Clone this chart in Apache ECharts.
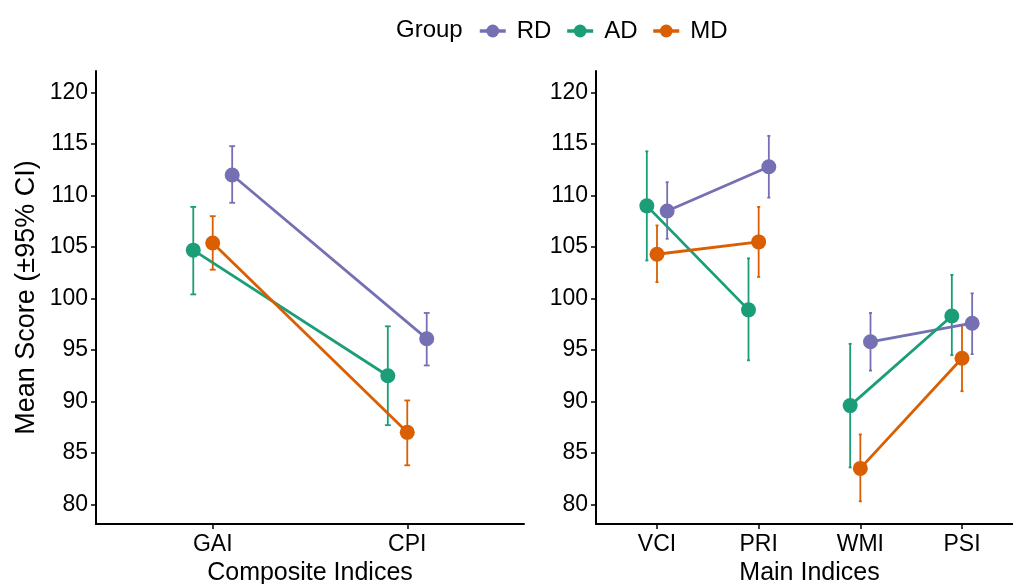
<!DOCTYPE html>
<html>
<head>
<meta charset="utf-8">
<script src="https://cdn.jsdelivr.net/npm/echarts@6/dist/echarts.min.js"></script>
<style>
  html, body { margin: 0; padding: 0; background: #fff; }
  #chart { width: 1013px; height: 584px; }
</style>
</head>
<body>
<div id="chart"></div>
<script>
var leftCats = ['GAI', 'CPI'];
var rightCats = ['VCI', 'PRI', 'WMI', 'PSI'];
var groups = ['RD', 'AD', 'MD'];
var yTicks = [80, 85, 90, 95, 100, 105, 110, 115, 120];

// composite indices (GAI, CPI)
var leftMean = { RD: [112.0, 96.1], AD: [104.7, 92.5], MD: [105.4, 87.0] };
var leftLow  = { RD: [109.3, 93.5], AD: [100.4, 87.7], MD: [102.8, 83.8] };
var leftHigh = { RD: [114.8, 98.6], AD: [108.9, 97.3], MD: [108.0, 90.1] };

// main indices (VCI, PRI, WMI, PSI) - lines only join VCI-PRI and WMI-PSI
var rightMean = { RD: [108.5, 112.8, 95.8, 97.6], AD: [109.0, 98.9, 89.6, 98.3], MD: [104.3, 105.5, 83.5, 94.2] };
var rightLow  = { RD: [105.8, 109.8, 93.0, 94.6], AD: [103.7, 94.0, 83.6, 94.5], MD: [101.6, 102.1, 80.3, 91.0] };
var rightHigh = { RD: [111.3, 115.8, 98.6, 100.5], AD: [114.3, 103.9, 95.6, 102.3], MD: [107.1, 108.9, 86.8, 97.4] };
var rightBreaks = [2];

var colors = { RD: '#7570B3', AD: '#1B9E77', MD: '#D95F02' };
var dodge = { AD: -0.1, MD: 0, RD: 0.1 };
var capW = 0.03;
var font = '"Liberation Sans", Arial, sans-serif';

function errorBar(params, api) {
    var x = api.value(0);
    var top = api.coord([x, api.value(2)]);
    var bot = api.coord([x, api.value(1)]);
    var l = api.coord([x - capW / 2, 0])[0];
    var r = api.coord([x + capW / 2, 0])[0];
    var style = { stroke: api.visual('color'), lineWidth: 1.8 };
    return {
        type: 'group',
        children: [
            { type: 'line', shape: { x1: top[0], y1: top[1], x2: bot[0], y2: bot[1] }, style: style },
            { type: 'line', shape: { x1: l, y1: top[1], x2: r, y2: top[1] }, style: style },
            { type: 'line', shape: { x1: l, y1: bot[1], x2: r, y2: bot[1] }, style: style }
        ]
    };
}

function xAxisFor(idx, cats, title) {
    var ticks = cats.map(function(c, i) { return i + 1; });
    return {
        type: 'value',
        gridIndex: idx,
        min: 0.4,
        max: cats.length + 0.6,
        name: title,
        nameLocation: 'middle',
        nameGap: 36,
        nameTextStyle: { color: '#000', fontSize: 25, fontFamily: font },
        splitLine: { show: false },
        axisLine: { lineStyle: { color: '#000', width: 2 } },
        axisTick: { length: 5, lineStyle: { color: '#000', width: 1.5 }, customValues: ticks },
        axisLabel: {
            color: '#000', fontSize: 23, fontFamily: font, margin: 9,
            customValues: ticks,
            formatter: function(v) { return cats[Math.round(v) - 1] || ''; }
        }
    };
}

function yAxisFor(idx, title) {
    return {
        type: 'value',
        gridIndex: idx,
        min: 78.1,
        max: 122.1,
        name: title,
        nameLocation: 'middle',
        nameGap: 56,
        nameTextStyle: { color: '#000', fontSize: 27, fontFamily: font },
        splitLine: { show: false },
        axisLine: { show: true, lineStyle: { color: '#000', width: 2 } },
        axisTick: { show: true, length: 5, lineStyle: { color: '#000', width: 1.5 }, customValues: yTicks },
        axisLabel: { color: '#000', fontSize: 23, fontFamily: font, margin: 8, customValues: yTicks }
    };
}

var series = [];
function addPanel(idx, cats, mean, low, high, breaks) {
    groups.forEach(function(g) {
        var pts = [], bars = [];
        for (var i = 0; i < cats.length; i++) {
            if (breaks.indexOf(i) >= 0) pts.push([i + 0.5, null]);
            pts.push([i + 1 + dodge[g], mean[g][i]]);
            bars.push([i + 1 + dodge[g], low[g][i], high[g][i]]);
        }
        series.push({
            name: g, type: 'line', xAxisIndex: idx, yAxisIndex: idx,
            data: pts, symbol: 'circle', symbolSize: 15, connectNulls: false,
            itemStyle: { color: colors[g] },
            lineStyle: { color: colors[g], width: 2.8 },
            z: 3, animation: false
        });
        series.push({
            name: g, type: 'custom', xAxisIndex: idx, yAxisIndex: idx,
            renderItem: errorBar, data: bars,
            itemStyle: { color: colors[g] },
            encode: { x: 0, y: [1, 2] },
            z: 2, animation: false
        });
    });
}
addPanel(0, leftCats, leftMean, leftLow, leftHigh, []);
addPanel(1, rightCats, rightMean, rightLow, rightHigh, rightBreaks);

var myChart = echarts.init(document.getElementById('chart'));
var option = {
    backgroundColor: '#fff',
    animation: false,
    title: {
        text: 'Group', left: 391, top: 13,
        textStyle: { color: '#000', fontSize: 24, fontWeight: 'normal', fontFamily: font }
    },
    legend: {
        data: groups,
        left: 473, top: 14,
        itemWidth: 26, itemHeight: 16, itemGap: 14,
        lineStyle: { width: 3.5 },
        textStyle: { color: '#000', fontSize: 24, fontFamily: font, padding: [0, 0, 0, 6] }
    },
    grid: [
        { left: 96, top: 71, width: 428, height: 453, outerBoundsMode: 'none' },
        { left: 596, top: 71, width: 427, height: 453, outerBoundsMode: 'none' }
    ],
    xAxis: [xAxisFor(0, leftCats, 'Composite Indices'), xAxisFor(1, rightCats, 'Main Indices')],
    yAxis: [yAxisFor(0, 'Mean Score (±95% CI)'), yAxisFor(1, '')],
    series: series
};
myChart.setOption(option);
</script>
</body>
</html>
